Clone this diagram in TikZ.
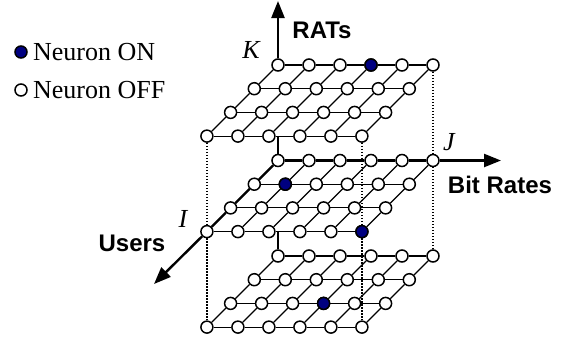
\documentclass[tikz,border=0pt]{standalone}
\usepackage{fontspec}
\setmainfont{Liberation Serif}
\setsansfont{Liberation Sans}
\usetikzlibrary{arrows.meta,backgrounds}

\definecolor{neuronblue}{RGB}{0,0,128}

\tikzset{
  neuron/.style={circle,draw,fill=white,line width=0.75pt,minimum size=6pt,inner sep=0pt},
  neuron on/.style={neuron,fill=neuronblue},
  grid line/.style={line width=0.55pt},
  axis line/.style={line width=1.2pt},
  axis arrow/.style={axis line,-{Triangle[length=8.5pt,width=6.5pt]}},
  corner line/.style={line width=0.6pt,dash pattern=on 0.6pt off 0.9pt},
  axis name/.style={font=\sffamily\bfseries\fontsize{12}{14}\selectfont},
  index name/.style={font=\itshape\fontsize{13}{15}\selectfont},
  legend text/.style={font=\fontsize{13}{15}\selectfont,anchor=west,inner sep=2.5pt}
}

\begin{document}
\begin{tikzpicture}[x=0.5pt,y=-0.5pt]
  \useasboundingbox (0,0) rectangle (567,349);

  % neurons: layer t/m/b, row i (back to front), column j
  \foreach \l/\y in {t/65, m/160.5, b/256}
    \foreach \i in {0,...,3}
      \foreach \j in {0,...,5}
        \node[neuron] (\l\i\j) at ({278+31*\j-23.7*\i},{\y+23.7*\i}) {};

  \node[neuron on] (ont) at (t03) {};
  \node[neuron on] (onm1) at (m11) {};
  \node[neuron on] (onm2) at (m35) {};
  \node[neuron on] (onb) at (b23) {};

  \begin{scope}[on background layer]
    % grids
    \foreach \l in {t,m,b} {
      \foreach \i in {0,...,3}
        \foreach \j [count=\k] in {0,...,4}
          \draw[grid line] (\l\i\j) -- (\l\i\k);
      \foreach \j in {0,...,5}
        \foreach \i [count=\k] in {0,...,2}
          \draw[grid line] (\l\i\j) -- (\l\k\j);
    }

    % box corners
    \draw[corner line] (t30) -- (m30);
    \draw[corner line] (m30) -- (b30);
    \draw[corner line] (t35) -- (m35);
    \draw[corner line] (m35) -- (b35);
    \draw[corner line] (t05) -- (m05);
    \draw[corner line] (m05) -- (b05);

    % axes
    \foreach \j [count=\k] in {0,...,4}
      \draw[axis line] (m0\j) -- (m0\k);
    \foreach \i [count=\k] in {0,...,2}
      \draw[axis line] (m\i0) -- (m\k0);
    \draw[axis line] (b00) -- (b00 |- m30);
    \draw[axis line] (m00) -- (m00 |- t30);
  \end{scope}

  \coordinate (ktip) at (278,1);
  \coordinate (jtip) at (501,160.5);
  \coordinate (itip) at (154,284);
  \draw[axis arrow] (t00) -- (ktip);
  \draw[axis arrow] (m05) -- (jtip);
  \draw[axis arrow] (m30) -- (itip);

  \node[axis name] (rats) at (322,30) {RATs};
  \node[index name] (klabel) at (251,50) {K};
  \node[index name] (jlabel) at (449,142) {J};
  \node[axis name] (bitrates) at (500,185) {Bit Rates};
  \node[index name] (ilabel) at (183,219) {I};
  \node[axis name] (users) at (132,243) {Users};

  % legend
  \node[neuron on] (legon) at (21,52) {};
  \node[legend text] (legontext) at (legon.east) {Neuron ON};
  \node[neuron] (legoff) at (21,90) {};
  \node[legend text] (legofftext) at (legoff.east) {Neuron OFF};
\end{tikzpicture}
\end{document}
